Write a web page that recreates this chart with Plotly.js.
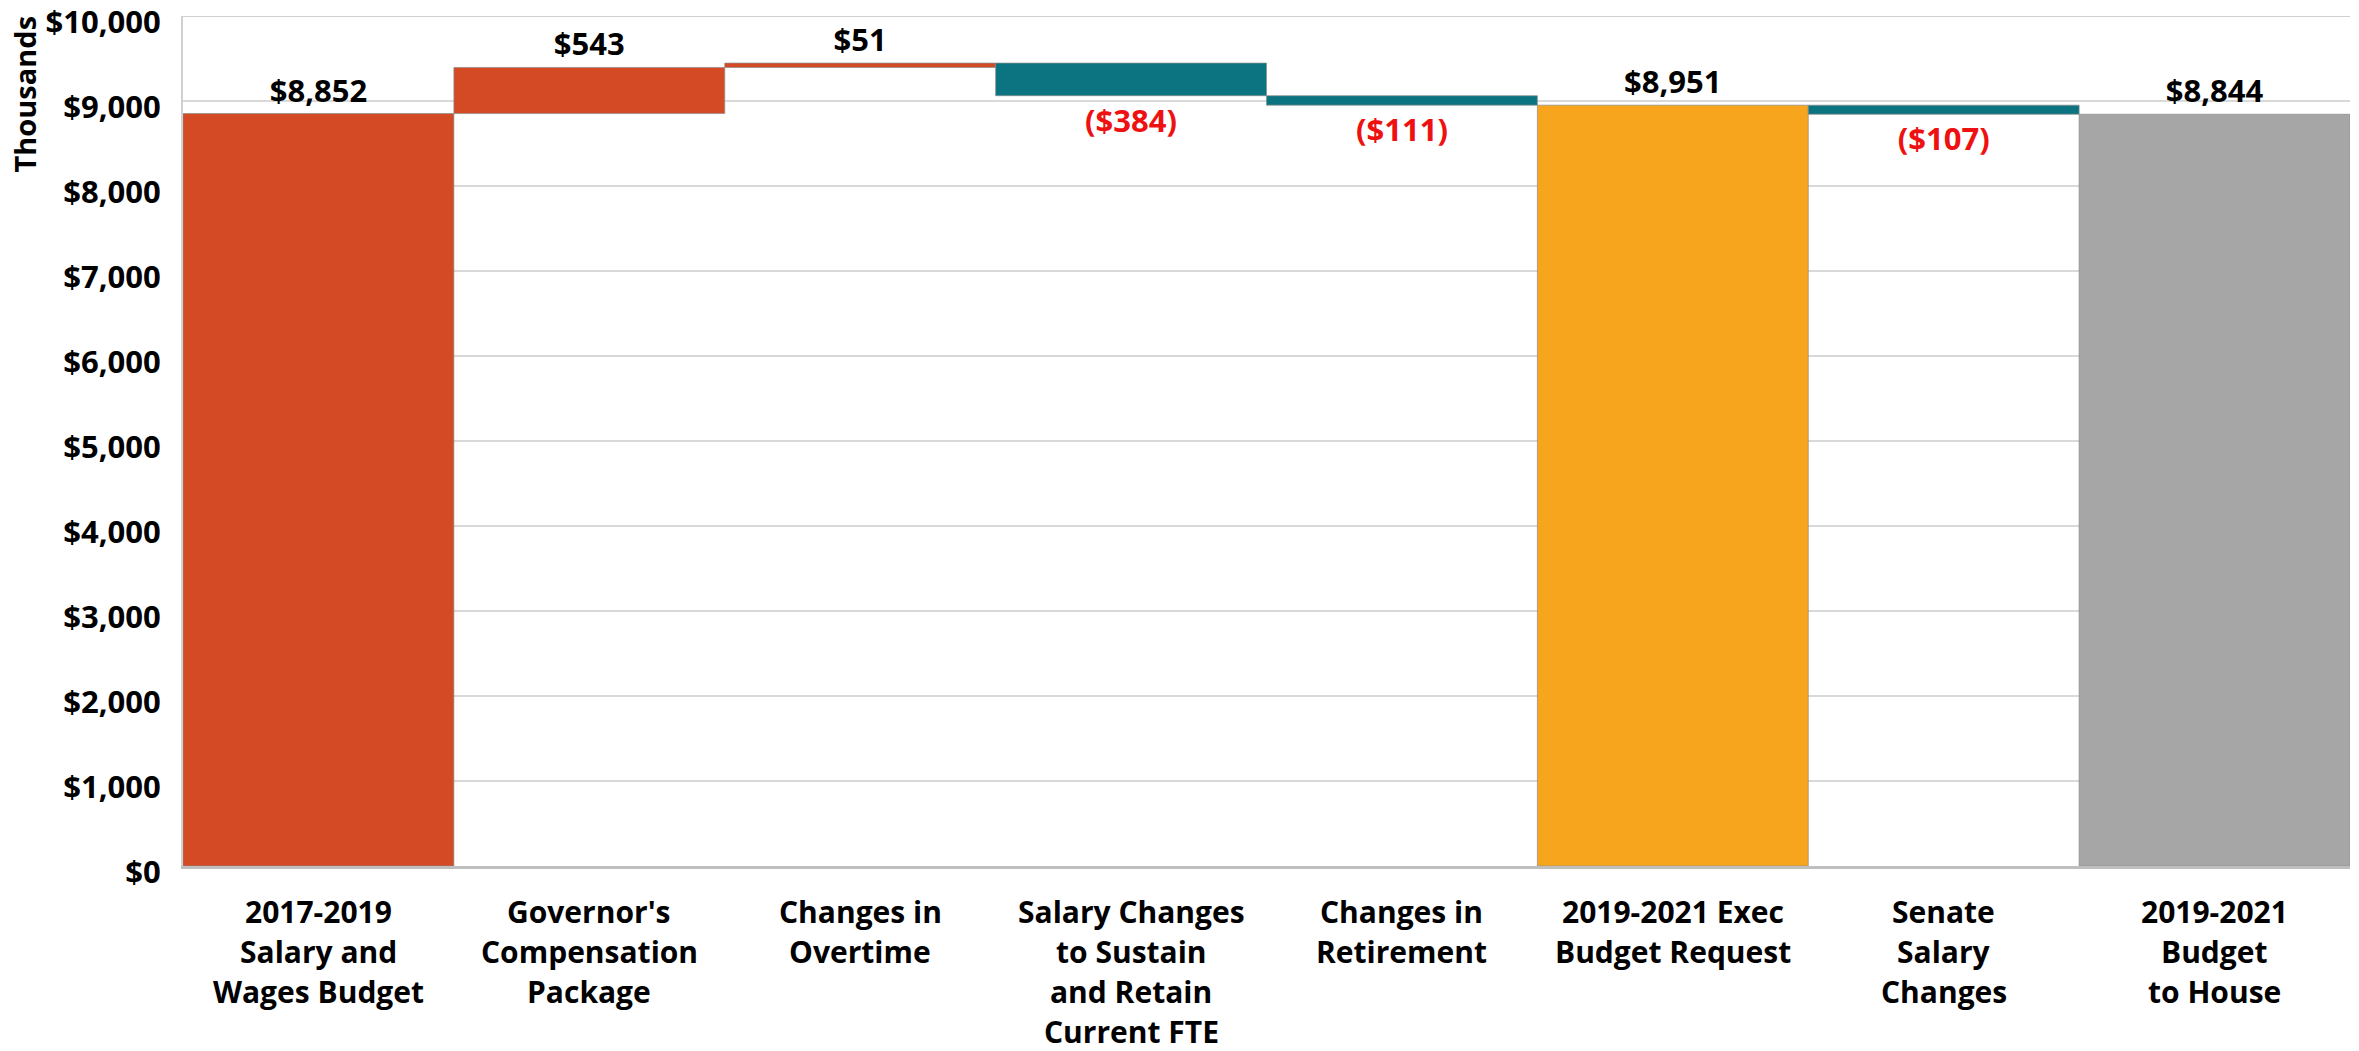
<!DOCTYPE html>
<html>
<head>
<meta charset="utf-8">
<script src="https://cdn.plot.ly/plotly-3.0.1.min.js"></script>
<style>html,body{margin:0;padding:0;background:#fff;}#chart{width:2359px;height:1051px;}</style>
</head>
<body>
<div id="chart"></div>
<script>
// ---- data ----
const categories = [
  "2017-2019<br>Salary and<br>Wages Budget",
  "Governor's<br>Compensation<br>Package",
  "Changes in<br>Overtime",
  "Salary Changes<br>to Sustain<br>and Retain<br>Current FTE",
  "Changes in<br>Retirement",
  "2019-2021 Exec<br>Budget Request",
  "Senate<br>Salary<br>Changes",
  "2019-2021<br>Budget<br>to House"
];
const measures = ["absolute", "relative", "relative", "relative", "relative", "total", "relative", "total"];
const values = [8852, 543, 51, -384, -111, 8951, -107, 8844];
const yTickVals = [0, 1000, 2000, 3000, 4000, 5000, 6000, 7000, 8000, 9000, 10000];
const yTickText = ["$0", "$1,000", "$2,000", "$3,000", "$4,000", "$5,000", "$6,000", "$7,000", "$8,000", "$9,000", "$10,000"];

// ---- derived ----
const barColors = ["#D34A24", "#D34A24", "#D34A24", "#0B7480", "#0B7480", "#F8A51E", "#0B7480", "#A6A6A6"];
const bases = [], heights = [], labels = [], labelColors = [];
let running = 0;
values.forEach((v, i) => {
  const m = measures[i];
  if (m === "absolute" || m === "total") { bases.push(0); heights.push(v); running = v; }
  else { bases.push(running); heights.push(v); running += v; }
  const s = "$" + Math.abs(v).toLocaleString("en-US");
  labels.push(v < 0 ? "(" + s + ")" : s);
  labelColors.push(v < 0 ? "#EE1111" : "#000000");
});

const FONT = "Open Sans, Noto Sans, sans-serif";

const trace = {
  type: "bar",
  x: categories,
  y: heights,
  base: bases,
  marker: { color: barColors, line: { color: "rgba(140,140,140,0.7)", width: 1 } },
  text: labels,
  textposition: "outside",
  textfont: { family: FONT, size: 31, color: labelColors, weight: 700 },
  cliponaxis: false,
  hoverinfo: "none"
};

const annotations = [];
categories.forEach((c) => {
  c.split("<br>").forEach((line, k) => {
    annotations.push({
      x: c, xref: "x", y: 0, yref: "paper",
      text: line, showarrow: false,
      xanchor: "center", yanchor: "middle",
      yshift: -(45 + k * 40),
      font: { family: FONT, size: 30, color: "#000", weight: 700 }
    });
  });
});
annotations.push({
  x: 0, xref: "paper", y: 1, yref: "paper",
  xshift: -159, yshift: 2,
  xanchor: "center", yanchor: "top",
  text: "Thousands", textangle: -90, showarrow: false,
  font: { family: FONT, size: 29, color: "#000", weight: 700 }
});

const layout = {
  width: 2359, height: 1051,
  margin: { l: 183, r: 9, t: 16, b: 185 },
  paper_bgcolor: "#fff", plot_bgcolor: "#fff",
  bargap: 0,
  showlegend: false,
  xaxis: {
    type: "category",
    showticklabels: false,
    showgrid: false,
    showline: true, linecolor: "#BFBFBF", linewidth: 3,
    zeroline: false,
    ticks: ""
  },
  yaxis: {
    range: [0, 10000],
    tickvals: yTickVals, ticktext: yTickText,
    tickfont: { family: FONT, size: 31, color: "#000", weight: 700 },
    ticklabeloverflow: "allow",
    ticklabelshift: 6,
    ticks: "outside", ticklen: 14, tickcolor: "rgba(0,0,0,0)",
    showgrid: true, gridcolor: "#D9D9D9", gridwidth: 2,
    showline: true, linecolor: "#D0D0D0", linewidth: 2, mirror: false,
    zeroline: false
  },
  shapes: [{
    type: "line", xref: "paper", yref: "y", x0: 0, x1: 1, y0: 10000, y1: 10000,
    line: { color: "#D0D0D0", width: 2 }, layer: "below"
  }],
  annotations: annotations
};

Plotly.newPlot("chart", [trace], layout, { staticPlot: true, displayModeBar: false });
</script>
</body>
</html>
